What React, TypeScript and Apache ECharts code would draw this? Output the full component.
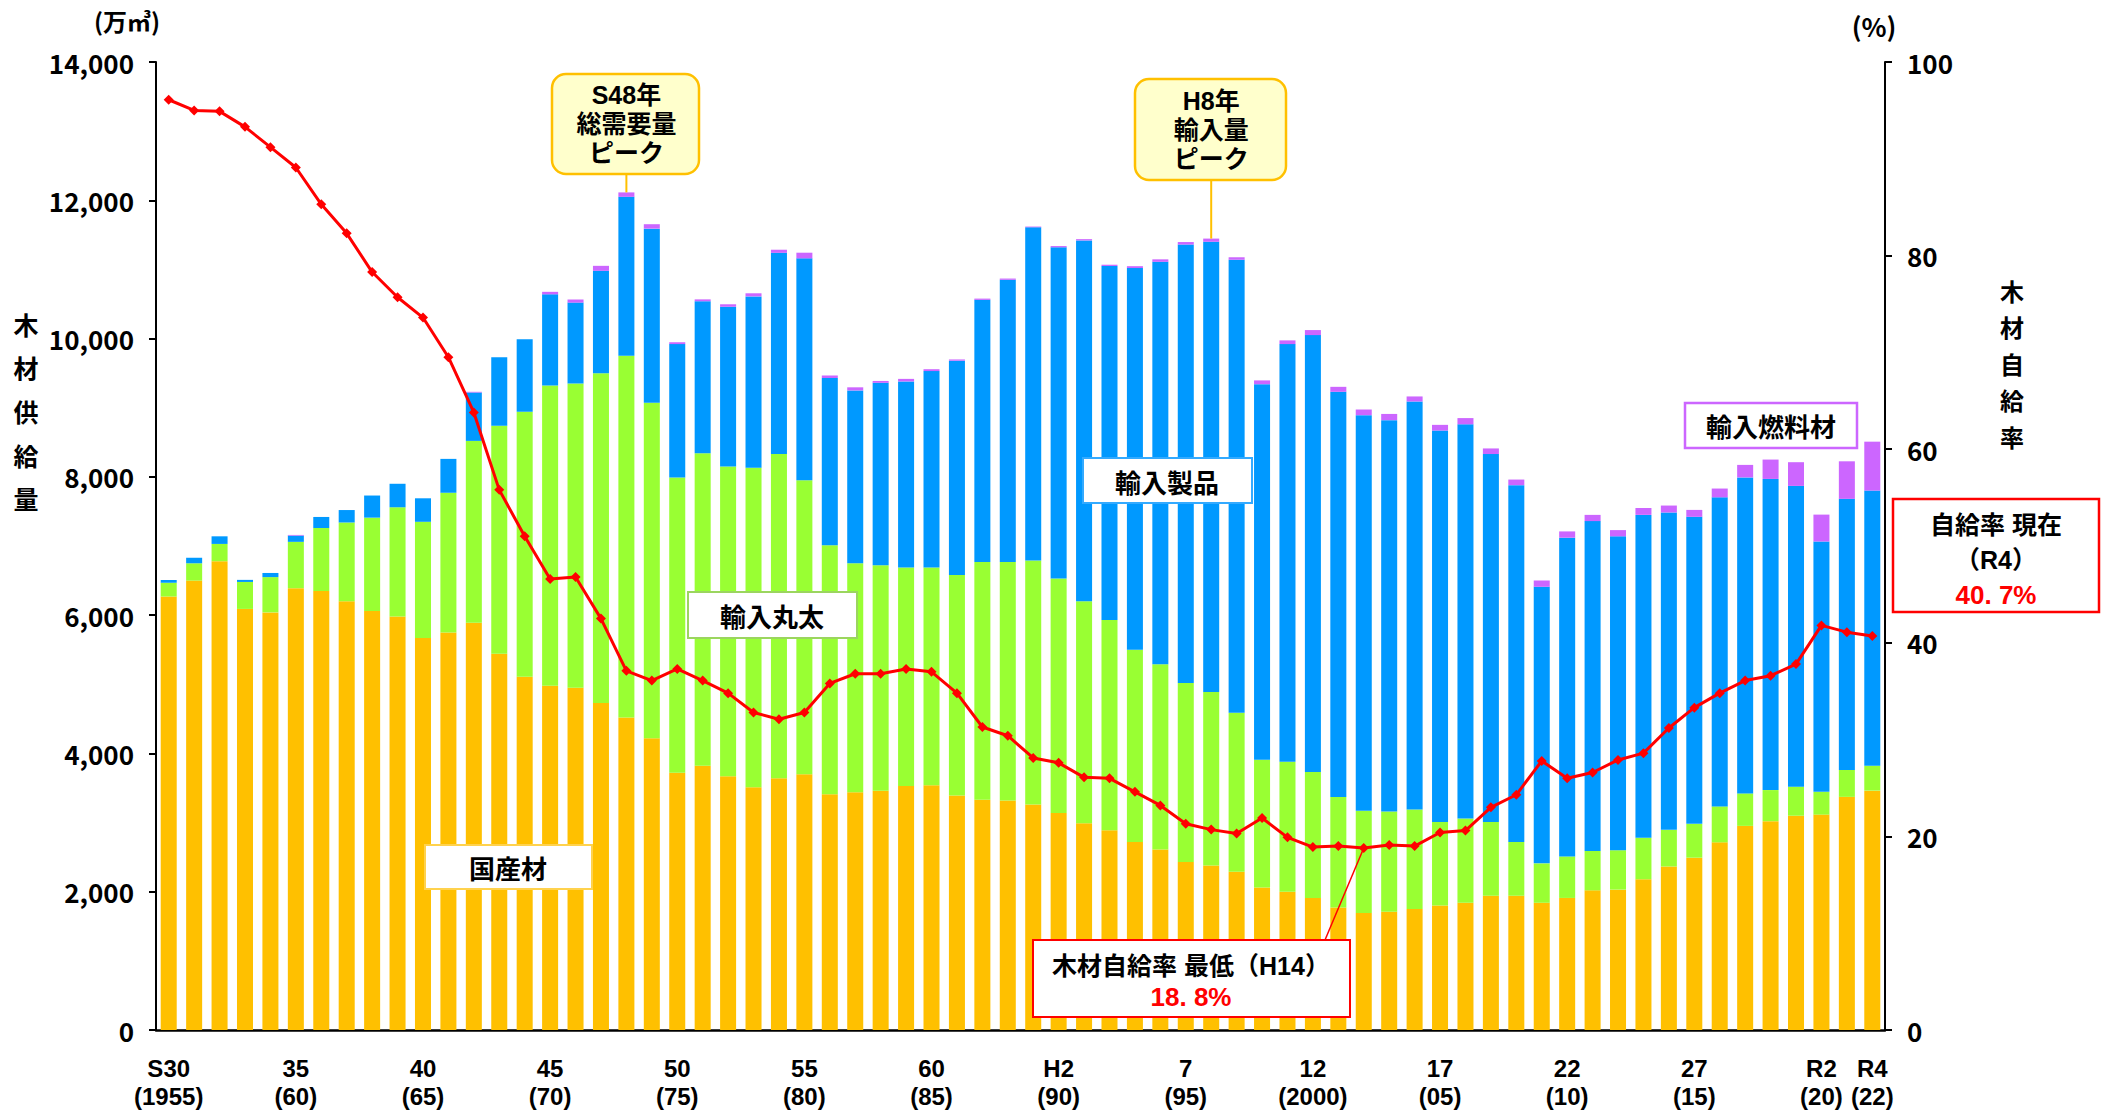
import React, { useEffect, useRef } from "react";
import * as echarts from "echarts";

const years = [
  "1955","1956","1957","1958","1959","1960","1961","1962","1963","1964",
  "1965","1966","1967","1968","1969","1970","1971","1972","1973","1974",
  "1975","1976","1977","1978","1979","1980","1981","1982","1983","1984",
  "1985","1986","1987","1988","1989","1990","1991","1992","1993","1994",
  "1995","1996","1997","1998","1999","2000","2001","2002","2003","2004",
  "2005","2006","2007","2008","2009","2010","2011","2012","2013","2014",
  "2015","2016","2017","2018","2019","2020","2021","2022",
];

// 国産材 (万㎥)
const domestic = [
  6269,6500,6780,6090,6040,6390,6350,6200,6060,5980,
  5670,5750,5890,5440,5110,4980,4950,4730,4520,4220,
  3720,3820,3670,3510,3640,3700,3410,3440,3460,3530,
  3540,3390,3330,3320,3260,3140,2990,2890,2720,2610,
  2430,2380,2290,2060,2000,1910,1770,1692,1710,1750,
  1800,1840,1940,1940,1840,1910,2020,2030,2180,2365,
  2492,2714,2952,3020,3099,3115,3372,3462,
];
// 輸入丸太
const importLogs = [
  200,250,250,390,510,670,910,1140,1350,1580,
  1680,2020,2630,3300,3830,4340,4400,4770,5230,4850,
  4270,4520,4480,4620,4690,4250,3600,3310,3260,3160,
  3150,3190,3440,3450,3530,3390,3210,3040,2780,2680,
  2590,2510,2300,1850,1880,1820,1600,1480,1450,1440,
  1210,1220,1070,780,570,600,570,570,600,530,
  490,520,470,450,420,330,390,360,
];
// 輸入製品
const importProducts = [
  40,80,110,30,60,90,160,180,320,340,
  340,490,700,990,1050,1320,1170,1480,2300,2520,
  1930,2200,2310,2480,2910,3210,2420,2500,2640,2690,
  2840,3100,3790,4080,4820,4790,5220,5120,5520,5820,
  6340,6510,6550,5430,6040,6320,5860,5720,5660,5900,
  5660,5700,5320,5160,4000,4610,4770,4540,4670,4590,
  4440,4470,4570,4500,4350,3620,3920,3980,
];
// 輸入燃料材
const importFuel = [
  0,0,0,0,0,10,0,0,0,0,
  0,0,10,0,0,36,45,72,64,64,
  27,27,36,45,45,82,36,45,27,37,
  27,18,18,18,10,18,18,18,27,36,
  36,46,36,55,54,73,72,82,90,73,
  82,90,81,81,91,91,90,90,100,100,
  100,127,181,280,343,389,543,707,
];
// 木材自給率 (%)
const selfRate = [
  96.1,95.0,94.9,93.3,91.2,89.1,85.3,82.3,78.3,75.7,
  73.6,69.5,63.8,55.8,51.0,46.6,46.8,42.5,37.1,36.1,
  37.3,36.1,34.8,32.8,32.1,32.8,35.8,36.8,36.8,37.3,
  37.0,34.8,31.3,30.4,28.1,27.6,26.1,26.0,24.6,23.2,
  21.3,20.7,20.3,21.9,19.9,18.9,19.0,18.8,19.1,19.0,
  20.4,20.6,23.0,24.3,27.8,26.0,26.6,27.9,28.6,31.2,
  33.3,34.8,36.1,36.6,37.8,41.8,41.1,40.7,
];

const tickIndex = [0, 5, 10, 15, 20, 25, 30, 35, 40, 45, 50, 55, 60, 65, 67];
const tickEra = ["S30", "35", "40", "45", "50", "55", "60", "H2", "7", "12", "17", "22", "27", "R2", "R4"];
const tickWestern = ["(1955)", "(60)", "(65)", "(70)", "(75)", "(80)", "(85)", "(90)", "(95)", "(2000)", "(05)", "(10)", "(15)", "(20)", "(22)"];

const leftTicks = { min: 0, max: 14000, interval: 2000 };
const rightTicks = { min: 0, max: 100, interval: 20 };

const FONT = "'Noto Sans CJK JP', 'Noto Sans', sans-serif";
const FONT_TIGHT = "'Liberation Sans', 'Noto Sans CJK JP', sans-serif";
const W = 2116;
const H = 1113;

function txt(x: number, y: number, text: string, size: number, color = "#000", lineHeight?: number, family = FONT) {
  return {
    type: "text",
    z: 101,
    x,
    y,
    style: {
      text,
      fill: color,
      fontSize: size,
      fontWeight: "bold",
      fontFamily: family,
      lineHeight: lineHeight || size * 1.15,
      align: "center",
      verticalAlign: "middle",
      textAlign: "center",
      textVerticalAlign: "middle",
    },
  };
}

function box(x: number, y: number, w: number, h: number, stroke: string, fill: string, r = 0, lw = 2) {
  return {
    type: "rect",
    z: 100,
    shape: { x, y, width: w, height: h, r },
    style: { fill, stroke, lineWidth: lw },
  };
}

export default function App() {
  const ref = useRef<HTMLDivElement>(null);

  useEffect(() => {
    if (!ref.current) return;
    const chart = echarts.init(ref.current, undefined, { renderer: "svg" });

    const eraMap: Record<number, string> = {};
    const westMap: Record<number, string> = {};
    tickIndex.forEach((idx, k) => {
      eraMap[idx] = tickEra[k];
      westMap[idx] = tickWestern[k];
    });

    const barSeries = (name: string, data: number[], color: string) => ({
      name,
      type: "bar",
      stack: "supply",
      data,
      barWidth: "63%",
      itemStyle: { color },
      emphasis: { disabled: true },
    });

    const xLabelStyle = {
      interval: 0,
      color: "#000",
      fontSize: 24,
      fontWeight: "bold",
      fontFamily: FONT_TIGHT,
    };

    chart.setOption({
      animation: false,
      grid: { left: 156, right: W - 1885, top: 62, bottom: H - 1030, containLabel: false },
      xAxis: [
        {
          type: "category",
          data: years,
          axisLine: { show: true, lineStyle: { color: "#000", width: 2.5 } },
          axisTick: { show: false },
          axisLabel: {
            ...xLabelStyle,
            margin: 26,
            formatter: (_v: string, i: number) => eraMap[i] || "",
          },
        },
        {
          type: "category",
          data: years,
          position: "bottom",
          axisLine: { show: false },
          axisTick: { show: false },
          axisLabel: {
            ...xLabelStyle,
            margin: 54,
            formatter: (_v: string, i: number) => westMap[i] || "",
          },
        },
      ],
      yAxis: [
        {
          type: "value",
          ...leftTicks,
          axisLine: { show: true, lineStyle: { color: "#000", width: 2 } },
          axisTick: { show: true, length: 7, lineStyle: { color: "#000", width: 2 } },
          splitLine: { show: false },
          axisLabel: {
            margin: 22,
            color: "#000",
            fontSize: 26,
            fontWeight: "bold",
            fontFamily: FONT,
            formatter: (v: number) => v.toLocaleString("en-US"),
          },
        },
        {
          type: "value",
          position: "right",
          ...rightTicks,
          axisLine: { show: true, lineStyle: { color: "#000", width: 2 } },
          axisTick: { show: true, length: 7, lineStyle: { color: "#000", width: 2 } },
          splitLine: { show: false },
          axisLabel: {
            margin: 22,
            color: "#000",
            fontSize: 26,
            fontWeight: "bold",
            fontFamily: FONT,
          },
        },
      ],
      series: [
        barSeries("国産材", domestic, "#FFC000"),
        barSeries("輸入丸太", importLogs, "#99FF33"),
        barSeries("輸入製品", importProducts, "#0099FF"),
        barSeries("輸入燃料材", importFuel, "#CC66FF"),
        {
          name: "木材自給率",
          type: "line",
          yAxisIndex: 1,
          data: selfRate,
          symbol: "diamond",
          symbolSize: 10,
          z: 5,
          lineStyle: { color: "#FF0000", width: 3 },
          itemStyle: { color: "#FF0000" },
          emphasis: { disabled: true },
        },
      ],
    });

    const total = (i: number) => domestic[i] + importLogs[i] + importProducts[i] + importFuel[i];
    const pS48 = chart.convertToPixel({ xAxisIndex: 0, yAxisIndex: 0 }, [18, total(18)]) as number[];
    const pH8 = chart.convertToPixel({ xAxisIndex: 0, yAxisIndex: 0 }, [41, total(41)]) as number[];
    const pH14 = chart.convertToPixel({ xAxisIndex: 0, yAxisIndex: 1 }, [47, selfRate[47]]) as number[];

    const graphic: any[] = [
      // axis units and titles
      txt(127, 20, "(万㎥)", 24),
      txt(1874, 25, "(%)", 26),
      txt(26, 411, "木\n材\n供\n給\n量", 25, "#000", 43.6),
      txt(2012, 363, "木\n材\n自\n給\n率", 24, "#000", 36.5),
      // S48 peak callout
      { type: "line", z: 99, shape: { x1: pS48[0], y1: 174, x2: pS48[0], y2: pS48[1] }, style: { stroke: "#FFC000", lineWidth: 2 } },
      box(552, 74, 147, 100, "#FFC000", "#FFFFCC", 14, 2.5),
      txt(pS48[0], 95, "S48年", 25, "#000", undefined, FONT_TIGHT),
      txt(pS48[0], 124, "総需要量", 25, "#000", undefined, FONT_TIGHT),
      txt(pS48[0], 153, "ピーク", 25, "#000", undefined, FONT_TIGHT),
      // H8 peak callout
      { type: "line", z: 99, shape: { x1: pH8[0], y1: 180, x2: pH8[0], y2: pH8[1] }, style: { stroke: "#FFC000", lineWidth: 2 } },
      box(1135, 79, 151, 101, "#FFC000", "#FFFFCC", 14, 2.5),
      txt(pH8[0], 101, "H8年", 25, "#000", undefined, FONT_TIGHT),
      txt(pH8[0], 130, "輸入量", 25, "#000", undefined, FONT_TIGHT),
      txt(pH8[0], 159, "ピーク", 25, "#000", undefined, FONT_TIGHT),
      // series labels
      box(1083, 458, 169, 45, "#33AAFF", "#FFFFFF", 0, 2),
      txt(1167, 481, "輸入製品", 26),
      box(688, 592, 169, 46, "#9BD55F", "#FFFFFF", 0, 2),
      txt(772, 615, "輸入丸太", 26),
      box(425, 845, 167, 44, "#FFD24D", "#FFFFFF", 0, 2),
      txt(508, 867, "国産材", 26),
      box(1685, 403, 172, 45, "#CC66FF", "#FFFFFF", 0, 2.5),
      txt(1771, 425, "輸入燃料材", 26),
      // current self-sufficiency box
      box(1893, 499, 206, 113, "#FF0000", "#FFFFFF", 0, 2.5),
      txt(1996, 525, "自給率 現在", 25, "#000", undefined, FONT_TIGHT),
      txt(1996, 560, "（R4）", 25, "#000", undefined, FONT_TIGHT),
      txt(1996, 595, "40. 7%", 26, "#FF0000", undefined, FONT_TIGHT),
      // lowest self-sufficiency callout
      { type: "line", z: 99, shape: { x1: 1325, y1: 940, x2: pH14[0], y2: pH14[1] }, style: { stroke: "#FF0000", lineWidth: 1.5 } },
      box(1033, 940, 317, 77, "#FF0000", "#FFFFFF", 0, 2),
      txt(1191, 966, "木材自給率 最低（H14）", 25, "#000", undefined, FONT_TIGHT),
      txt(1191, 997, "18. 8%", 26, "#FF0000", undefined, FONT_TIGHT),
    ];

    chart.setOption({ graphic });

    return () => chart.dispose();
  }, []);

  return (
    <div
      ref={ref}
      style={{ position: "absolute", left: 0, top: 0, width: W, height: H, background: "#fff" }}
    />
  );
}
